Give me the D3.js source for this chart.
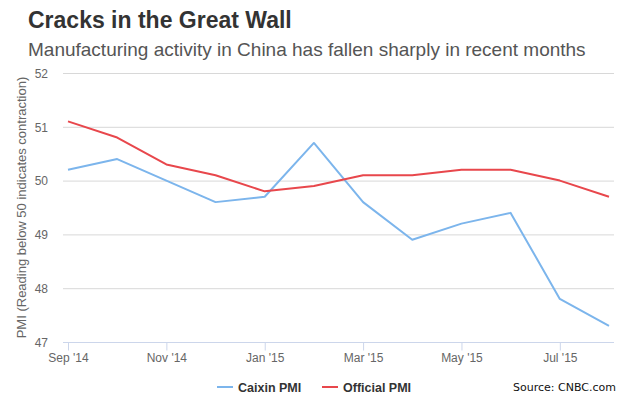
<!DOCTYPE html>
<html lang="en">
<head>
<meta charset="UTF-8">
<title>Cracks in the Great Wall</title>
<script src="https://cdn.jsdelivr.net/npm/d3@7"></script>
<style>
  body { margin: 0; background: #fff; font-family: "Liberation Sans", Arial, sans-serif; }
  .grid line { stroke: #d8d8d8; stroke-width: 1; }
  .yAxis text, .xAxis text { fill: #666; font-size: 12px; }
  .xAxis path, .xAxis line { stroke: #ccd6eb; }
</style>
</head>
<body>
<svg id="chart" width="625" height="397"></svg>
<script>
  let months = ['Sep \'14', 'Oct \'14', 'Nov \'14', 'Dec \'14', 'Jan \'15', 'Feb \'15',
                'Mar \'15', 'Apr \'15', 'May \'15', 'Jun \'15', 'Jul \'15', 'Aug \'15']
  let caixin = [50.2, 50.4, 50.0, 49.6, 49.7, 50.7, 49.6, 48.9, 49.2, 49.4, 47.8, 47.3]
  let official = [51.1, 50.8, 50.3, 50.1, 49.8, 49.9, 50.1, 50.1, 50.2, 50.2, 50.0, 49.7]
  let yTicks = [47, 48, 49, 50, 51, 52]
  let xTickIdx = [0, 2, 4, 6, 8, 10]

  let series = [
    {name: 'Caixin PMI', values: caixin, color: '#7cb5ec'},
    {name: 'Official PMI', values: official, color: '#e8474c'}
  ]

  let svg = d3.select('#chart')
  let plotL = 63, plotR = 614, plotT = 73, plotB = 342

  let x = d3.scaleLinear().domain([0, months.length - 1]).range([68, 609])
  let y = d3.scaleLinear().domain([47, 52]).range([plotB, plotT])

  // titles
  svg.append('text').attr('x', 28).attr('y', 28)
    .style('font-size', '23px').style('font-weight', 'bold').style('fill', '#333')
    .text('Cracks in the Great Wall')
  svg.append('text').attr('x', 28).attr('y', 56)
    .style('font-size', '19px').style('fill', '#555')
    .text('Manufacturing activity in China has fallen sharply in recent months')

  // gridlines
  svg.append('g').attr('class', 'grid')
    .selectAll('line').data(yTicks.filter(d => d > 47)).join('line')
    .attr('x1', plotL).attr('x2', plotR)
    .attr('y1', d => y(d) + 0.5).attr('y2', d => y(d) + 0.5)

  // y axis labels
  let yAxis = d3.axisLeft(y).tickValues(yTicks).tickSize(0).tickPadding(0).tickFormat(d3.format('d'))
  svg.append('g').attr('class', 'yAxis')
    .attr('transform', 'translate(48,0)')
    .call(yAxis)
    .call(g => g.select('.domain').remove())
    .selectAll('text').attr('dy', '0.35em')

  svg.append('text')
    .attr('transform', `translate(26,${(plotT + plotB) / 2}) rotate(-90)`)
    .attr('text-anchor', 'middle')
    .style('font-size', '13px').style('fill', '#666')
    .text('PMI (Reading below 50 indicates contraction)')

  // x axis
  let xAxis = d3.axisBottom(x).tickValues(xTickIdx).tickSize(8).tickPadding(3)
    .tickFormat(i => months[i])
  let xg = svg.append('g').attr('class', 'xAxis')
    .attr('transform', `translate(0,${plotB + 0.5})`)
    .call(xAxis)
  xg.select('.domain').attr('d', `M${plotL},0H${plotR}`)

  // lines
  let line = d3.line().x((d, i) => x(i)).y(d => y(d))
  svg.append('g').selectAll('path').data(series).join('path')
    .attr('d', d => line(d.values))
    .attr('fill', 'none')
    .attr('stroke', d => d.color)
    .attr('stroke-width', 2)
    .attr('stroke-linejoin', 'round')

  // legend
  let legendX = [217, 322]
  let lg = svg.append('g').selectAll('g').data(series).join('g')
    .attr('transform', (d, i) => `translate(${legendX[i]},387)`)
  lg.append('line').attr('x1', 0).attr('x2', 16).attr('y1', 0).attr('y2', 0)
    .attr('stroke', d => d.color).attr('stroke-width', 2)
  lg.append('text').attr('x', 21).attr('y', 4.5)
    .style('font-size', '12.5px').style('font-weight', 'bold').style('fill', '#333')
    .text(d => d.name)

  svg.append('text').attr('x', 616).attr('y', 391).attr('text-anchor', 'end')
    .style('font-family', '"DejaVu Sans", Verdana, sans-serif')
    .style('font-size', '11px').style('fill', '#111')
    .text('Source: CNBC.com')
</script>
</body>
</html>
